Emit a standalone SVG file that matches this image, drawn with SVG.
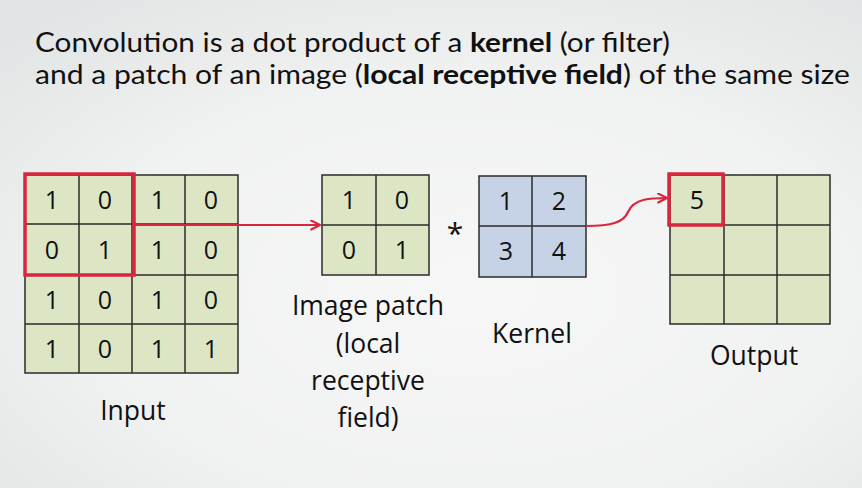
<svg xmlns="http://www.w3.org/2000/svg" width="862" height="488" viewBox="0 0 862 488">
<defs>
<radialGradient id="bg" cx="0.55" cy="0.6" r="0.75">
<stop offset="0" stop-color="#f7f7f7"/>
<stop offset="0.6" stop-color="#f0f1f1"/>
<stop offset="1" stop-color="#e2e5e5"/>
</radialGradient>
<marker id="arr" viewBox="0 0 10 10" refX="9" refY="5" markerWidth="11" markerHeight="11" markerUnits="userSpaceOnUse" orient="auto">
<path d="M1,1 L9,5 L1,9" fill="none" stroke="#d9263f" stroke-width="2" stroke-linecap="round" stroke-linejoin="round"/>
</marker>
<style>
.t{font-family:"Open Sans","Noto Sans",sans-serif;fill:#111;}
.title{font-family:Lato,"Open Sans",sans-serif;font-size:26px;fill:#111;}
.num{font-size:25px;text-anchor:middle;}
.lbl{font-size:26.5px;text-anchor:middle;}
.g{fill:#dde6c4;stroke:#2b2b2b;stroke-width:1.5;}
.b{fill:#c6d3e6;stroke:#2b2b2b;stroke-width:1.5;}
.ln{stroke:#2b2b2b;stroke-width:1.5;}
.red{fill:none;stroke:#d9263f;stroke-width:3.5;}
.con{fill:none;stroke:#d9263f;stroke-width:2.2;}
</style>
</defs>
<rect width="862" height="488" fill="url(#bg)"/>

<g id="title">
<text class="title" x="35" y="52" textLength="635" lengthAdjust="spacingAndGlyphs">Convolution is a dot product of a <tspan font-weight="bold">kernel</tspan> (or filter)</text>
<text class="title" x="35" y="83.5" textLength="815" lengthAdjust="spacingAndGlyphs">and a patch of an image (<tspan font-weight="bold">local receptive field</tspan>) of the same size</text>
</g>

<g id="input">
<rect class="g" x="25" y="175" width="213" height="198"/>
<line class="ln" x1="79" y1="175" x2="79" y2="373"/>
<line class="ln" x1="132" y1="175" x2="132" y2="373"/>
<line class="ln" x1="185" y1="175" x2="185" y2="373"/>
<line class="ln" x1="25" y1="224" x2="238" y2="224"/>
<line class="ln" x1="25" y1="275" x2="238" y2="275"/>
<line class="ln" x1="25" y1="324" x2="238" y2="324"/>
<g class="t num">
<text x="52" y="209">1</text><text x="105" y="209">0</text><text x="158" y="209">1</text><text x="211" y="209">0</text>
<text x="52" y="259">0</text><text x="105" y="259">1</text><text x="158" y="259">1</text><text x="211" y="259">0</text>
<text x="52" y="309">1</text><text x="105" y="309">0</text><text x="158" y="309">1</text><text x="211" y="309">0</text>
<text x="52" y="358">1</text><text x="105" y="358">0</text><text x="158" y="358">1</text><text x="211" y="358">1</text>
</g>
<rect class="red" x="25" y="174" width="109" height="101"/>
<text class="t lbl" x="133" y="420">Input</text>
</g>

<g id="patch">
<rect class="g" x="322" y="175" width="107" height="100"/>
<line class="ln" x1="376" y1="175" x2="376" y2="275"/>
<line class="ln" x1="322" y1="225" x2="429" y2="225"/>
<g class="t num">
<text x="349" y="209">1</text><text x="402" y="209">0</text>
<text x="349" y="259">0</text><text x="402" y="259">1</text>
</g>
<text class="t lbl" x="368" y="315">Image patch</text>
<text class="t lbl" x="368" y="353">(local</text>
<text class="t lbl" x="368" y="390">receptive</text>
<text class="t lbl" x="368" y="427">field)</text>
</g>

<g id="op">
<text class="t" x="455" y="244" font-size="30" text-anchor="middle">*</text>
</g>

<g id="kernel">
<rect class="b" x="479" y="176" width="107" height="101"/>
<line class="ln" x1="532" y1="176" x2="532" y2="277"/>
<line class="ln" x1="479" y1="226" x2="586" y2="226"/>
<g class="t num">
<text x="506" y="210">1</text><text x="559" y="210">2</text>
<text x="506" y="260">3</text><text x="559" y="260">4</text>
</g>
<text class="t lbl" x="532" y="343">Kernel</text>
</g>

<g id="output">
<rect class="g" x="670" y="175" width="160" height="149"/>
<line class="ln" x1="724" y1="175" x2="724" y2="324"/>
<line class="ln" x1="777" y1="175" x2="777" y2="324"/>
<line class="ln" x1="670" y1="225" x2="830" y2="225"/>
<line class="ln" x1="670" y1="275" x2="830" y2="275"/>
<text class="t num" x="697" y="209">5</text>
<rect class="red" x="669" y="174" width="54" height="51"/>
<text class="t lbl" x="754" y="365">Output</text>
</g>

<g id="connectors">
<line class="con" x1="134" y1="225" x2="320" y2="225" marker-end="url(#arr)"/>
<path class="con" d="M586,226 C612,226 624,222 628,212 C634,198 652,198 667,198" marker-end="url(#arr)"/>
</g>
</svg>
